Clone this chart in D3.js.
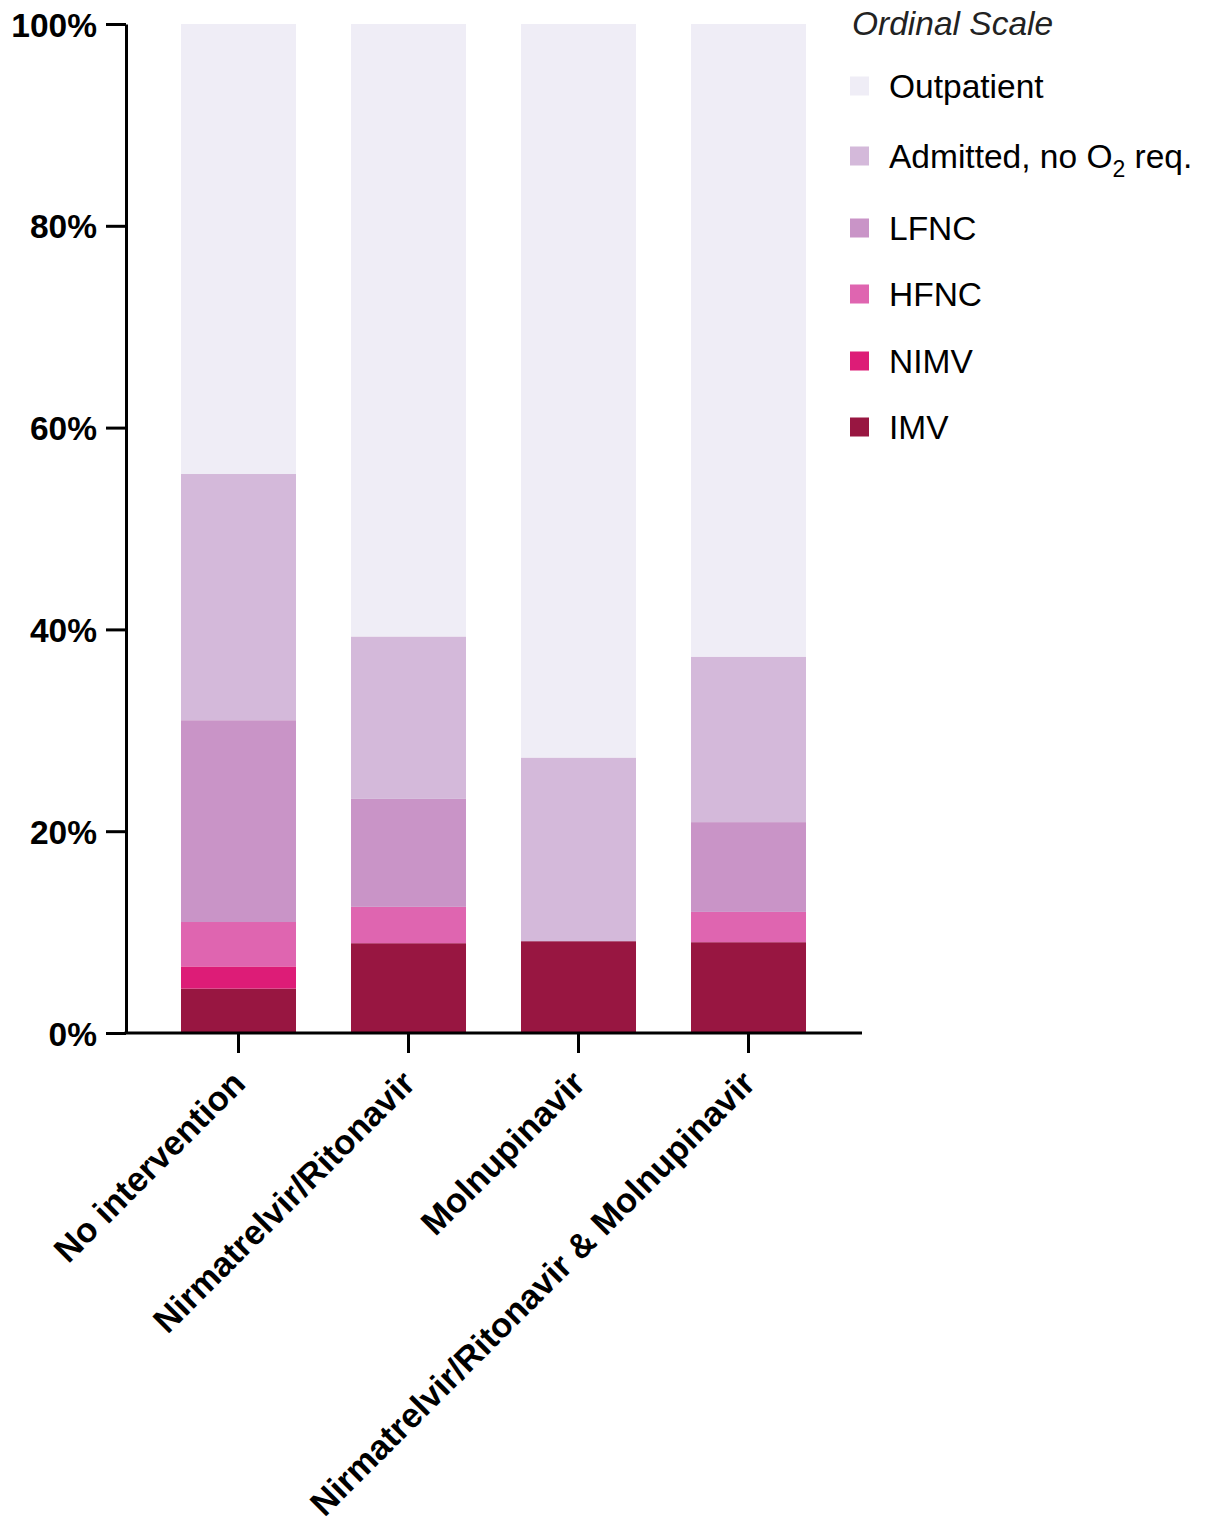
<!DOCTYPE html>
<html>
<head>
<meta charset="utf-8">
<script src="https://cdn.jsdelivr.net/npm/d3@7"></script>
<style>
  html, body { margin: 0; padding: 0; background: #fff; }
  svg { display: block; font-family: "Liberation Sans", Arial, sans-serif; }
</style>
</head>
<body>
<svg id="chart" width="1209" height="1526"></svg>
<script>
// ---- data ----
const categories = ["No intervention", "Nirmatrelvir/Ritonavir", "Molnupinavir", "Nirmatrelvir/Ritonavir & Molnupinavir"];
const seriesNames = ["IMV", "NIMV", "HFNC", "LFNC", "Admitted, no O2 req.", "Outpatient"];
const IMV        = [4.4, 8.9, 9.1, 9.0];
const NIMV       = [2.2, 0.0, 0.0, 0.0];
const HFNC       = [4.4, 3.6, 0.0, 3.0];
const LFNC       = [20.0, 10.7, 0.0, 8.9];
const Admitted   = [24.4, 16.1, 18.2, 16.4];
const Outpatient = [44.6, 60.7, 72.7, 62.7];
const yTicks = [0, 20, 40, 60, 80, 100];
const colors = ["#981641", "#dd1c77", "#df65b0", "#c994c7", "#d4b9da", "#efedf6"];
const legendOrder = ["Outpatient", "Admitted, no O2 req.", "LFNC", "HFNC", "NIMV", "IMV"];

const seriesValues = [IMV, NIMV, HFNC, LFNC, Admitted, Outpatient];
const table = categories.map((c, i) => {
  const row = { category: c };
  seriesNames.forEach((s, j) => row[s] = seriesValues[j][i]);
  return row;
});

const svg = d3.select("#chart");
const x = d3.scaleBand().domain(categories).range([126, 861]).paddingInner(0.3235).paddingOuter(0.3235);
const y = d3.scaleLinear().domain([0, 100]).range([1033, 24]);
const color = d3.scaleOrdinal().domain(seriesNames).range(colors);

const stack = d3.stack().keys(seriesNames);
const stacked = stack(table);

svg.append("g").selectAll("g").data(stacked).join("g")
  .attr("fill", d => color(d.key))
  .selectAll("rect").data(d => d).join("rect")
  .attr("x", d => x(d.data.category))
  .attr("width", x.bandwidth())
  .attr("y", d => y(d[1]))
  .attr("height", d => Math.max(0, y(d[0]) - y(d[1])));

// y axis
const yAxis = svg.append("g").attr("transform", "translate(126,0)")
  .call(d3.axisLeft(y).tickValues(yTicks).tickFormat(d => d + "%").tickSize(20).tickSizeOuter(0));
yAxis.select(".domain").attr("stroke", "#000").attr("stroke-width", 3);
yAxis.selectAll(".tick line").attr("stroke", "#000").attr("stroke-width", 3);
yAxis.selectAll(".tick text")
  .attr("x", -29).attr("dy", "0.36em")
  .attr("font-size", 33.5).attr("font-weight", "bold").attr("fill", "#000")
  .attr("font-family", "'Liberation Sans', Arial, sans-serif");

// x axis
const xAxis = svg.append("g").attr("transform", "translate(0,1033)")
  .call(d3.axisBottom(x).tickSize(20).tickSizeOuter(0));
xAxis.select(".domain").attr("stroke", "#000").attr("stroke-width", 3).attr("d", "M124.5,0H862");
xAxis.selectAll(".tick line").attr("stroke", "#000").attr("stroke-width", 3);
xAxis.selectAll(".tick text")
  .attr("font-size", 34.5).attr("font-weight", "bold").attr("fill", "#000")
  .attr("font-family", "'Liberation Sans', Arial, sans-serif")
  .attr("text-anchor", "end")
  .attr("x", 0).attr("y", 0).attr("dy", "0.35em")
  .attr("transform", "translate(0,44) rotate(-45)");

// legend
const legend = svg.append("g");
legend.append("text")
  .attr("x", 852).attr("y", 35)
  .attr("font-size", 33.5).attr("font-style", "italic").attr("fill", "#222")
  .text("Ordinal Scale");
const legendY = [86, 156, 228, 294, 361, 427];
legendOrder.forEach((name, i) => {
  const g = legend.append("g").attr("transform", `translate(850,${legendY[i]})`);
  g.append("rect").attr("x", 0).attr("y", -9.5).attr("width", 19).attr("height", 19).attr("fill", color(name));
  const t = g.append("text").attr("x", 39).attr("y", 11.5).attr("font-size", 33.5).attr("fill", "#000");
  if (name.includes("O2")) {
    t.append("tspan").text("Admitted, no O");
    t.append("tspan").attr("font-size", 23).attr("dy", 9).text("2");
    t.append("tspan").attr("dy", -9).text(" req.");
  } else {
    t.text(name);
  }
});
</script>
</body>
</html>
